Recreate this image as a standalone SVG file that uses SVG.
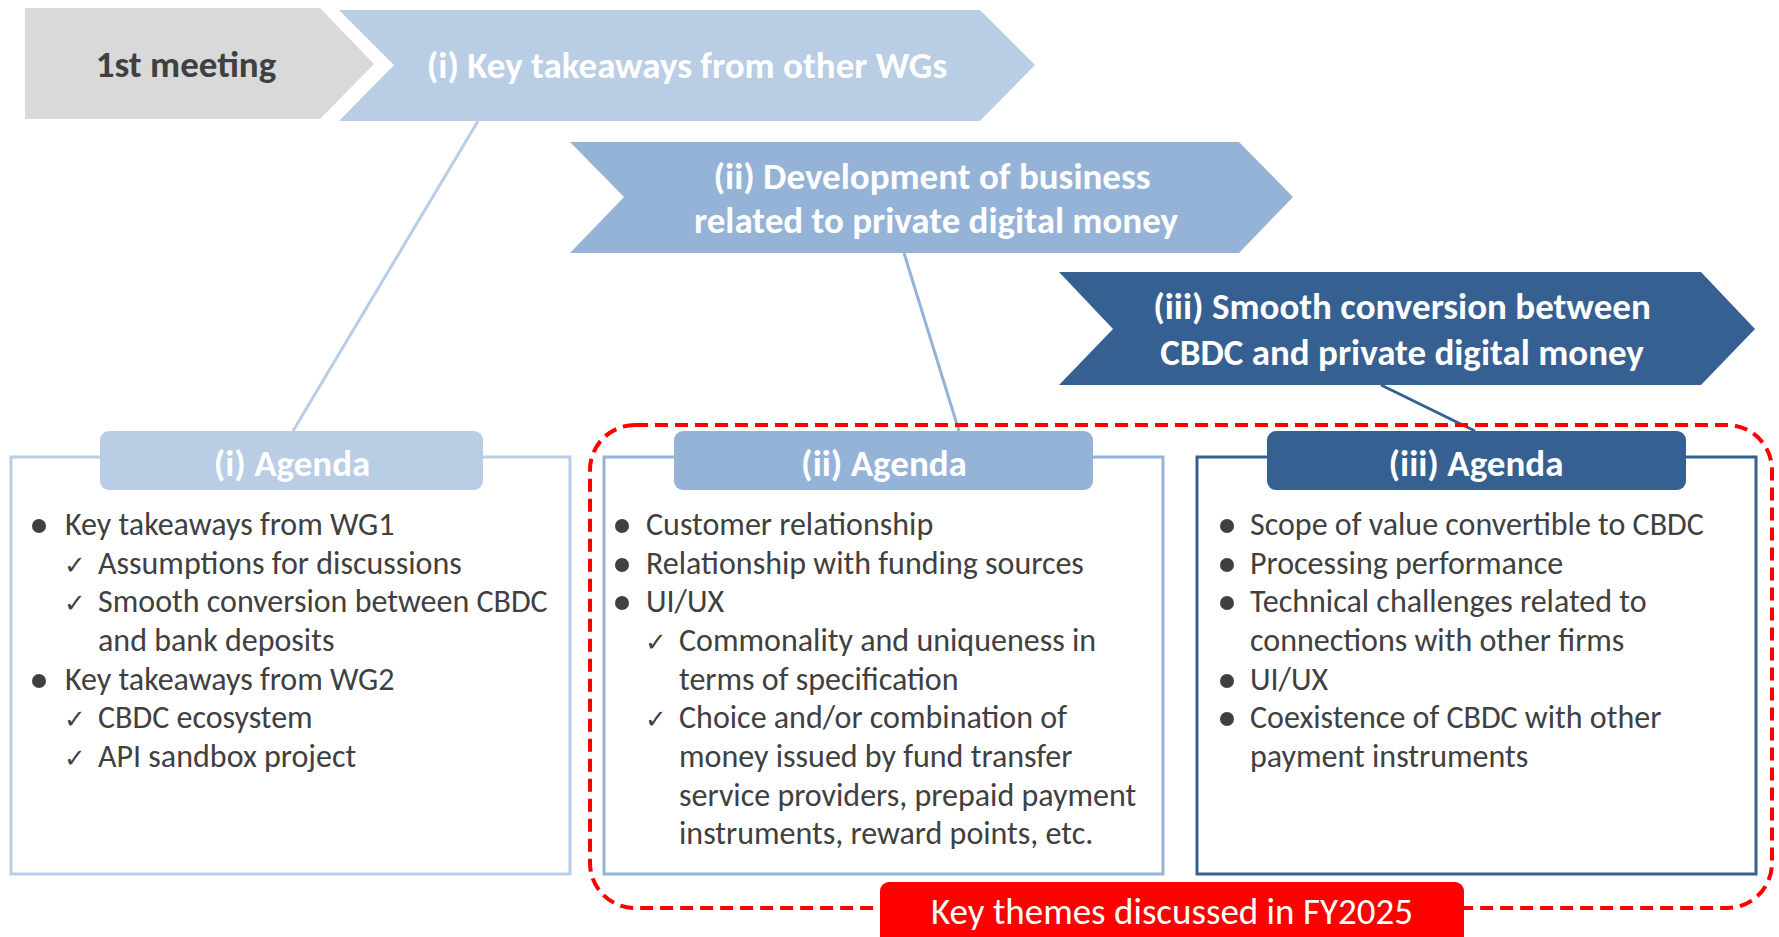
<svg xmlns="http://www.w3.org/2000/svg" width="1779" height="937" viewBox="0 0 1779 937">
<style>
.t{font-family:Carlito,Lato,"Liberation Sans",sans-serif}
.hd{font-weight:bold;font-size:37px;fill:#fff;text-anchor:middle}
.bd{font-size:32px;fill:#404040}
.ck{font-family:"DejaVu Sans",sans-serif;font-size:26px;fill:#404040}
.bl{fill:#404040}
</style>
<rect width="1779" height="937" fill="#fff"/>
<g id="connectors" fill="none" stroke-width="3">
<line x1="478" y1="121" x2="293" y2="431" stroke="#B9CDE5"/>
<line x1="904" y1="253" x2="959" y2="431" stroke="#95B3D7"/>
<line x1="1381" y1="385" x2="1475" y2="431" stroke="#376092"/>
</g>
<g id="meeting1">
<polygon points="25,8 320,8 374,64 320,119 25,119" fill="#D9D9D9"/>
<text class="t hd" x="186" y="77" style="fill:#404040">1st meeting</text>
</g>
<g id="step1">
<polygon points="339,10 980,10 1035,65 980,121 339,121 394,65" fill="#B9CDE5"/>
<text class="t hd" x="687" y="78">(i) Key takeaways from other WGs</text>
</g>
<g id="step2">
<polygon points="570,142 1239,142 1293,197 1239,253 570,253 624,197" fill="#95B3D7"/>
<text class="t hd" x="932" y="189">(ii) Development of business</text>
<text class="t hd" x="936" y="233">related to private digital money</text>
</g>
<g id="step3">
<polygon points="1059,272 1701,272 1755,329 1701,385 1059,385 1113,329" fill="#376092"/>
<text class="t hd" x="1402" y="319">(iii) Smooth conversion between</text>
<text class="t hd" x="1402" y="365">CBDC and private digital money</text>
</g>
<g id="themes">
<rect x="590" y="425" width="1182" height="483" rx="45" fill="none" stroke="#FF0000" stroke-width="4" stroke-dasharray="13 7"/>
</g>
<g id="agenda1">
<rect x="11" y="457" width="559" height="417" fill="#fff" stroke="#B9CDE5" stroke-width="3"/>
<rect x="100" y="431" width="383" height="59" rx="9" fill="#B9CDE5"/>
<text class="t hd" x="292" y="476">(i) Agenda</text>
<circle class="bl" cx="39" cy="526" r="7"/>
<text class="t bd" x="65" y="535">Key takeaways from WG1</text>
<text class="ck" x="64" y="574">✓</text>
<text class="t bd" x="98" y="574">Assumptions for discussions</text>
<text class="ck" x="64" y="612">✓</text>
<text class="t bd" x="98" y="612">Smooth conversion between CBDC</text>
<text class="t bd" x="98" y="651">and bank deposits</text>
<circle class="bl" cx="39" cy="681" r="7"/>
<text class="t bd" x="65" y="690">Key takeaways from WG2</text>
<text class="ck" x="64" y="728">✓</text>
<text class="t bd" x="98" y="728">CBDC ecosystem</text>
<text class="ck" x="64" y="767">✓</text>
<text class="t bd" x="98" y="767">API sandbox project</text>
</g>
<g id="agenda2">
<rect x="604" y="457" width="559" height="417" fill="#fff" stroke="#95B3D7" stroke-width="3"/>
<rect x="674" y="431" width="419" height="59" rx="9" fill="#95B3D7"/>
<text class="t hd" x="884" y="476">(ii) Agenda</text>
<circle class="bl" cx="622" cy="526" r="7"/>
<text class="t bd" x="646" y="535">Customer relationship</text>
<circle class="bl" cx="622" cy="565" r="7"/>
<text class="t bd" x="646" y="574">Relationship with funding sources</text>
<circle class="bl" cx="622" cy="603" r="7"/>
<text class="t bd" x="646" y="612">UI/UX</text>
<text class="ck" x="645" y="651">✓</text>
<text class="t bd" x="679" y="651">Commonality and uniqueness in</text>
<text class="t bd" x="679" y="690">terms of specification</text>
<text class="ck" x="645" y="728">✓</text>
<text class="t bd" x="679" y="728">Choice and/or combination of</text>
<text class="t bd" x="679" y="767">money issued by fund transfer</text>
<text class="t bd" x="679" y="806">service providers, prepaid payment</text>
<text class="t bd" x="679" y="844">instruments, reward points, etc.</text>
</g>
<g id="agenda3">
<rect x="1197" y="457" width="559" height="417" fill="#fff" stroke="#376092" stroke-width="3"/>
<rect x="1267" y="431" width="419" height="59" rx="9" fill="#376092"/>
<text class="t hd" x="1476" y="476">(iii) Agenda</text>
<circle class="bl" cx="1227" cy="526" r="7"/>
<text class="t bd" x="1250" y="535">Scope of value convertible to CBDC</text>
<circle class="bl" cx="1227" cy="565" r="7"/>
<text class="t bd" x="1250" y="574">Processing performance</text>
<circle class="bl" cx="1227" cy="603" r="7"/>
<text class="t bd" x="1250" y="612">Technical challenges related to</text>
<text class="t bd" x="1250" y="651">connections with other firms</text>
<circle class="bl" cx="1227" cy="681" r="7"/>
<text class="t bd" x="1250" y="690">UI/UX</text>
<circle class="bl" cx="1227" cy="719" r="7"/>
<text class="t bd" x="1250" y="728">Coexistence of CBDC with other</text>
<text class="t bd" x="1250" y="767">payment instruments</text>
</g>
<g id="themes-label">
<rect x="880" y="882" width="584" height="70" rx="9" fill="#FF0000"/>
<text class="t" x="1172" y="924" font-size="37" fill="#fff" text-anchor="middle">Key themes discussed in FY2025</text>
</g>
</svg>
